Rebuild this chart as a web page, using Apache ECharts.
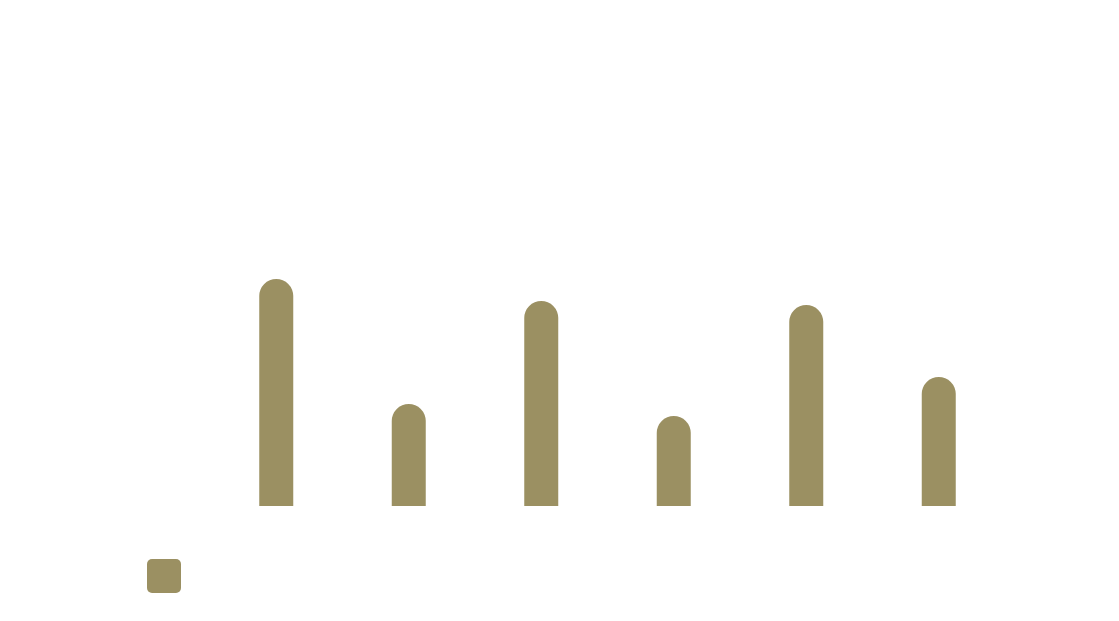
<!DOCTYPE html>
<html>
<head>
<meta charset="utf-8">
<script src="https://cdn.jsdelivr.net/npm/echarts@6/dist/echarts.min.js"></script>
<style>
html,body{margin:0;padding:0;background:#fff;}
#chart{width:1119px;height:621px;}
</style>
</head>
<body>
<div id="chart"></div>
<script>
var categories = ['A', 'B', 'C', 'D', 'E', 'F'];
var seriesName = 'Series';
var values = [56.75, 25.5, 51.25, 22.5, 50.25, 32.25];

var barColor = '#9b9062';
var chart = echarts.init(document.getElementById('chart'), null, {renderer: 'canvas'});
chart.setOption({
  animation: false,
  backgroundColor: '#ffffff',
  grid: {left: 210, right: 114, top: 106, bottom: 115, containLabel: false},
  legend: {
    left: 147,
    top: 559,
    padding: 0,
    itemWidth: 34,
    itemHeight: 34,
    icon: 'path://M5,0 H29 A5,5 0 0 1 34,5 V29 A5,5 0 0 1 29,34 H5 A5,5 0 0 1 0,29 V5 A5,5 0 0 1 5,0 Z',
    formatter: function () { return ''; },
    data: [seriesName]
  },
  xAxis: {
    type: 'category',
    data: categories,
    axisLine: {show: false},
    axisTick: {show: false},
    axisLabel: {show: false},
    splitLine: {show: false}
  },
  yAxis: {
    type: 'value',
    min: 0,
    max: 100,
    show: false,
    splitLine: {show: false}
  },
  series: [{
    name: seriesName,
    type: 'bar',
    data: values,
    barWidth: 34,
    itemStyle: {color: barColor, borderRadius: [17, 17, 0, 0]}
  }]
});
</script>
</body>
</html>
